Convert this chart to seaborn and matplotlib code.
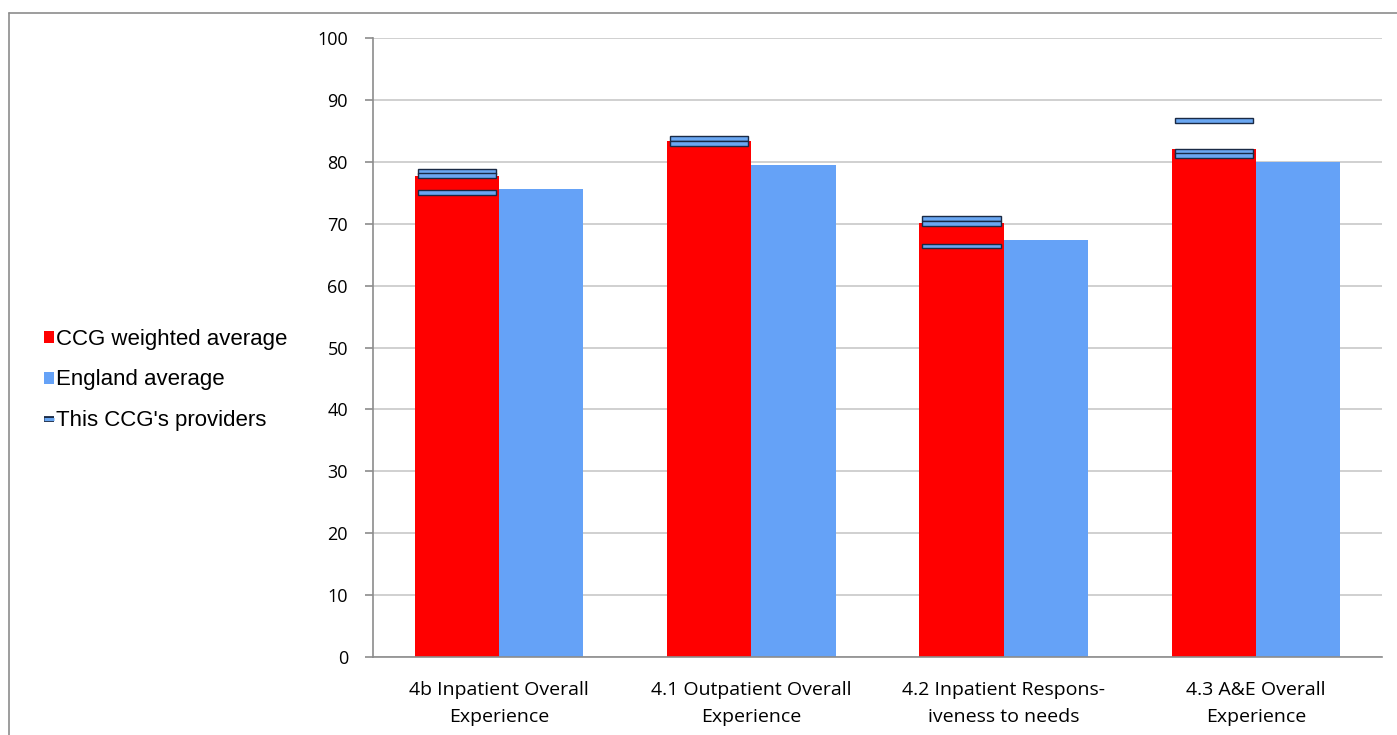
import matplotlib
matplotlib.use("Agg")
import matplotlib.pyplot as plt
import matplotlib.patheffects as pe
import seaborn as sns
import pandas as pd
import numpy as np
from matplotlib.patches import Patch
from matplotlib.lines import Line2D

categories = ["4b Inpatient Overall\nExperience",
              "4.1 Outpatient Overall\nExperience",
              "4.2 Inpatient Respons-\niveness to needs",
              "4.3 A&E Overall\nExperience"]
ccg_avg = [77.7, 83.4, 70.1, 82.1]
england_avg = [75.6, 79.5, 67.4, 80.0]
providers = [[78.5, 77.8, 75.0],
             [83.7, 82.9],
             [70.8, 70.1, 66.4],
             [86.7, 81.7, 81.0]]
series_names = ["CCG weighted average", "England average"]
marker_label = "This CCG's providers"
yticks = list(range(0, 101, 10))

RED = "#FF0000"
BLUE = "#65A2F7"
MK_FACE = "#6AA7F2"
MK_EDGE = "#1A2A45"

sns.set_theme(style="white")
plt.rcParams["font.family"] = ["Open Sans", "DejaVu Sans"]
plt.rcParams["text.color"] = "black"
plt.rcParams["xtick.color"] = "black"
plt.rcParams["ytick.color"] = "black"

df = pd.DataFrame({
    "category": categories * 2,
    "series": [series_names[0]] * 4 + [series_names[1]] * 4,
    "value": ccg_avg + england_avg,
})

fig = plt.figure(figsize=(13.97, 7.35), dpi=100)
ax = fig.add_axes([373 / 1397, (735 - 657) / 735, (1382 - 373) / 1397, (657 - 38) / 735])

sns.barplot(data=df, x="category", y="value", hue="series", order=categories,
            hue_order=series_names, palette=[RED, BLUE], width=0.667,
            saturation=1, ax=ax, legend=False, edgecolor="none", linewidth=0)

# provider markers on the CCG bar
mk_h = 0.8
for i, vals in enumerate(providers):
    for v in vals:
        ax.bar(i - 0.1667, mk_h, bottom=v - mk_h / 2, width=0.31,
               color=MK_FACE, edgecolor=MK_EDGE, linewidth=1.0, zorder=4)

ax.set_ylim(0, 100)
ax.set_xlim(-0.5, 3.5)
ax.set_yticks(yticks)
ax.set_yticklabels([str(t) for t in yticks], fontsize=13)
ax.set_xticks(range(len(categories)))
ax.set_xticklabels(categories, fontsize=14, linespacing=1.7)
ax.set_xlabel("")
ax.set_ylabel("")
ax.yaxis.grid(True, color="#C8C8C8", linewidth=1.2)
ax.set_axisbelow(True)
for s in ["top", "right"]:
    ax.spines[s].set_visible(False)
for s in ["left", "bottom"]:
    ax.spines[s].set_color("#8C8C8C")
    ax.spines[s].set_linewidth(1.2)

# minor ticks at category boundaries on x
ax.set_xticks(np.arange(-0.5, 4.0, 1.0), minor=True)
ax.tick_params(axis="x", which="major", length=0, pad=17)
ax.tick_params(axis="x", which="minor", length=6, color="#8C8C8C", width=1.2)
ax.tick_params(axis="y", which="major", length=6, color="#8C8C8C", width=1.2, pad=12, left=True)

# legend
prov_handle = Line2D([], [], color=MK_FACE, linewidth=2.2, solid_capstyle="butt",
                     path_effects=[pe.Stroke(linewidth=4.2, foreground=MK_EDGE), pe.Normal()])
handles = [Patch(facecolor=RED, edgecolor="none"),
           Patch(facecolor=BLUE, edgecolor="none"),
           prov_handle]
labels = series_names + [marker_label]
fig.legend(handles, labels, loc="center left", bbox_to_anchor=(33 / 1397, (735 - 380) / 735),
           frameon=False, handlelength=0.45, handleheight=0.45,
           handletextpad=0.1, labelspacing=0.87, borderpad=0,
           prop={"family": ["Liberation Sans", "DejaVu Sans"], "size": 16})

# outer chart border (top and left)
fig.add_artist(Line2D([9 / 1397, 1.0], [1 - 13 / 735, 1 - 13 / 735], color="#8C8C8C", linewidth=1.2,
                      transform=fig.transFigure))
fig.add_artist(Line2D([9 / 1397, 9 / 1397], [0.0, 1 - 13 / 735], color="#8C8C8C", linewidth=1.2,
                      transform=fig.transFigure))

fig.savefig("out.png", dpi=100, facecolor="white")
